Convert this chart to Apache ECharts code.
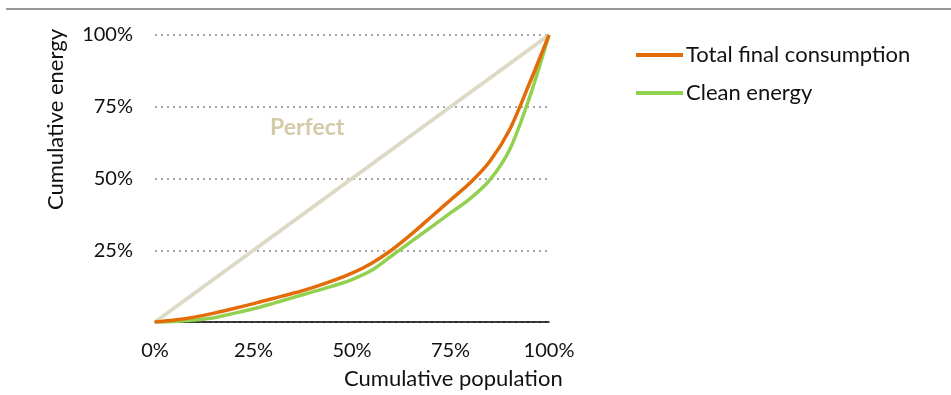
<!DOCTYPE html>
<html>
<head>
<meta charset="utf-8">
<script src="https://cdn.jsdelivr.net/npm/echarts@6/dist/echarts.min.js"></script>
<style>
  html, body { margin: 0; padding: 0; background: #fff; }
  #chart { width: 951px; height: 395px; }
</style>
</head>
<body>
<div id="chart"></div>
<script>
// cumulative population (%)
var population = [0, 5, 10, 15, 20, 25, 30, 35, 40, 45, 50, 55, 60, 65, 70, 75, 80, 85, 90, 95, 100];
// cumulative energy (%)
var totalFinal = [0, 0.7, 1.7, 3.1, 4.7, 6.4, 8.2, 10, 12, 14.3, 17, 20.5, 25, 30.5, 36.5, 42.5, 48.5, 56, 67, 83, 100];
var cleanEnergy = [0, 0.2, 0.7, 1.5, 3, 4.6, 6.5, 8.5, 10.5, 12.5, 14.8, 18, 23, 28, 33, 38, 43, 49.5, 60, 78, 100];
var perfect = [[0, 0], [100, 100]];
var axisTicks = [0, 25, 50, 75, 100];

var font = 'Lato, "Noto Sans", sans-serif';

function pairs(xs, ys) {
  return xs.map(function (x, i) { return [x, ys[i]]; });
}

var chart = echarts.init(document.getElementById('chart'));
chart.setOption({
  animation: false,
  textStyle: { fontFamily: font },
  grid: { left: 155, right: 402, top: 35, bottom: 73, containLabel: false },
  legend: {
    orient: 'vertical',
    left: 631,
    top: 38,
    itemWidth: 47,
    itemHeight: 4,
    itemGap: 14,
    icon: 'rect',
    textStyle: { fontSize: 22, lineHeight: 24, color: '#111', fontFamily: font, padding: [0, 0, 0, -2] },
    data: ['Total final consumption', 'Clean energy']
  },
  xAxis: {
    type: 'value',
    min: axisTicks[0],
    max: axisTicks[axisTicks.length - 1],
    interval: 25,
    axisLine: { show: true, lineStyle: { color: '#000', width: 1.5 } },
    axisTick: { show: false },
    splitLine: { show: false },
    axisLabel: {
      color: '#111', fontSize: 20, margin: 19,
      formatter: function (v) { return v + '%'; }
    }
  },
  yAxis: {
    type: 'value',
    min: 0,
    max: 100,
    interval: 25,
    axisLine: { show: false },
    axisTick: { show: false },
    splitLine: { show: true, lineStyle: { color: '#a6a6a6', width: 2, type: [2, 4] } },
    axisLabel: {
      color: '#111', fontSize: 20, margin: 22,
      formatter: function (v) { return v === 0 ? '' : v + '%'; }
    }
  },
  graphic: [
    { type: 'line', shape: { x1: 6, y1: 9, x2: 951, y2: 9 }, style: { stroke: '#9a9a9a', lineWidth: 2 } },
    { type: 'text', left: 344, top: 368, style: { text: 'Cumulative population', fontSize: 22, fill: '#111', fontFamily: font } },
    { type: 'text', left: 45, top: 29, rotation: Math.PI / 2, originX: 0, originY: 0,
      style: { text: 'Cumulative energy', fontSize: 22, fill: '#111', fontFamily: font } },
    { type: 'text', left: 270, top: 116, style: { text: 'Perfect', fontSize: 23, fontWeight: 'bold', fill: '#d4caa8', fontFamily: font } }
  ],
  series: [
    {
      name: 'Perfect',
      type: 'line',
      data: perfect,
      symbol: 'none',
      lineStyle: { color: '#ddd9c4', width: 4 },
      z: 1
    },
    {
      name: 'Total final consumption',
      type: 'line',
      data: pairs(population, totalFinal),
      symbol: 'none',
      smooth: 0.3,
      itemStyle: { color: '#e36c09' },
      lineStyle: { color: '#e36c09', width: 3.5 },
      z: 3
    },
    {
      name: 'Clean energy',
      type: 'line',
      data: pairs(population, cleanEnergy),
      symbol: 'none',
      smooth: 0.3,
      itemStyle: { color: '#92d050' },
      lineStyle: { color: '#92d050', width: 3.5 },
      z: 2
    }
  ]
});
</script>
</body>
</html>
